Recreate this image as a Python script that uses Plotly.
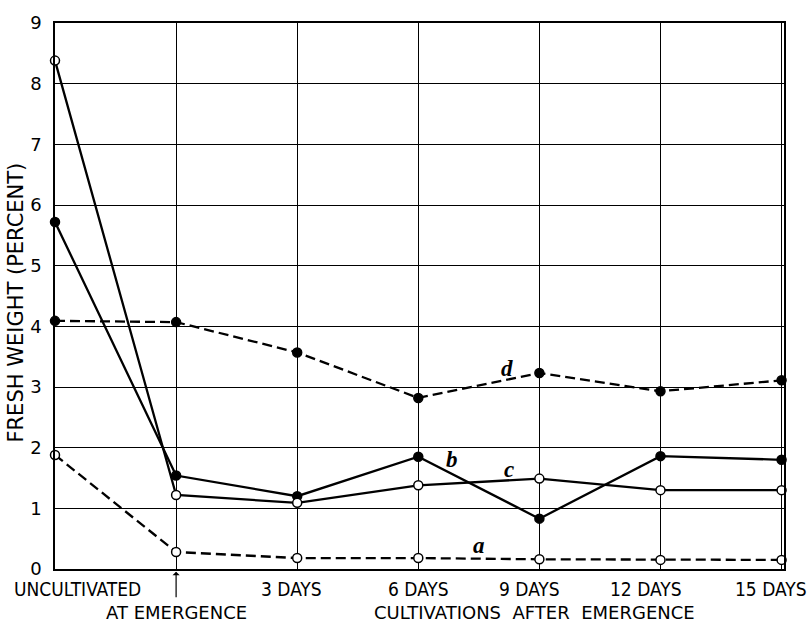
import plotly.graph_objects as go

categories = ["UNCULTIVATED", "AT EMERGENCE", "3 DAYS", "6 DAYS", "9 DAYS", "12 DAYS", "15 DAYS"]
x_pos = [0, 1, 2, 3, 4, 5, 6]
series_a = [1.88, 0.28, 0.18, 0.18, 0.16, 0.15, 0.15]
series_b = [5.72, 1.54, 1.20, 1.85, 0.83, 1.86, 1.80]
series_c = [8.38, 1.22, 1.09, 1.38, 1.49, 1.30, 1.30]
series_d = [4.09, 4.07, 3.57, 2.82, 3.23, 2.93, 3.11]
y_ticks = [0, 1, 2, 3, 4, 5, 6, 7, 8, 9]

FONT = "DejaVu Sans Condensed, Liberation Sans Narrow, Arial Narrow, sans-serif"
WIDE = "DejaVu Sans, sans-serif"

fig = go.Figure()

def add(series, dash, filled):
    fig.add_trace(go.Scatter(
        x=x_pos, y=series, mode="lines+markers",
        line=dict(color="black", width=2.3, dash=dash),
        marker=dict(size=9, symbol="circle",
                    color="black" if filled else "white",
                    line=dict(color="black", width=1.5)),
        showlegend=False, cliponaxis=False))

add(series_d, "10px,5px", True)
add(series_a, "10px,5px", False)
add(series_b, "solid", True)
add(series_c, "solid", False)

# horizontal nudges of the top-row labels (pixels), as in the original lettering
x_shift = [22, 0, -6, 0, -10, -14, -11]

ann = []
for i, cat in enumerate(categories):
    if cat == "AT EMERGENCE":
        ann.append(dict(x=x_pos[i], y=-0.08, xref="x", yref="paper", text=cat,
                        showarrow=False, yanchor="middle", xanchor="center", xshift=0,
                        font=dict(size=18, family=WIDE, color="black")))
        ann.append(dict(x=x_pos[i], y=-0.005, ax=0, ay=27,
                        xref="x", yref="paper", axref="pixel", ayref="pixel",
                        text="", showarrow=True, arrowhead=1, arrowsize=1,
                        arrowwidth=1.2, arrowcolor="black"))
    else:
        ann.append(dict(x=x_pos[i], y=-0.036, xref="x", yref="paper", text=cat,
                        showarrow=False, yanchor="middle", xanchor="center", xshift=x_shift[i],
                        font=dict(size=19, family=FONT, color="black")))
ann.append(dict(x=3.96, y=-0.08, xref="x", yref="paper", text="CULTIVATIONS  AFTER  EMERGENCE",
                showarrow=False, yanchor="middle", xanchor="center",
                font=dict(size=18, family=WIDE, color="black")))
ann.append(dict(x=-0.0535, y=0.488, xref="paper", yref="paper", text="FRESH WEIGHT (PERCENT)",
                showarrow=False, textangle=-90, xanchor="center", yanchor="middle",
                font=dict(size=21, family=WIDE, color="black")))
for letter, xx, yy in [("d", 3.73, 3.3), ("b", 3.28, 1.8), ("c", 3.75, 1.64), ("a", 3.5, 0.39)]:
    ann.append(dict(x=xx, y=yy, xref="x", yref="y", text="<b><i>" + letter + "</i></b>",
                    showarrow=False, font=dict(size=23, family="Liberation Serif, serif", color="black")))

fig.update_layout(
    width=808, height=622,
    margin=dict(l=55, r=24, t=14, b=53),
    paper_bgcolor="white", plot_bgcolor="white",
    annotations=ann,
    xaxis=dict(range=[0, 6.02], showticklabels=False, tickvals=x_pos, showgrid=True,
               gridcolor="black", gridwidth=1, zeroline=False,
               showline=True, linecolor="black", linewidth=1.5, mirror=True, ticks=""),
    yaxis=dict(range=[0, 9], tickvals=y_ticks, ticktext=[str(v) for v in y_ticks],
               showgrid=True, gridcolor="black", gridwidth=1, zeroline=False,
               showline=True, linecolor="black", linewidth=1.5, mirror=True, ticks="",
               ticklabelstandoff=8,
               tickfont=dict(size=18, family=WIDE, color="black")),
)

fig.write_html("out.html")
